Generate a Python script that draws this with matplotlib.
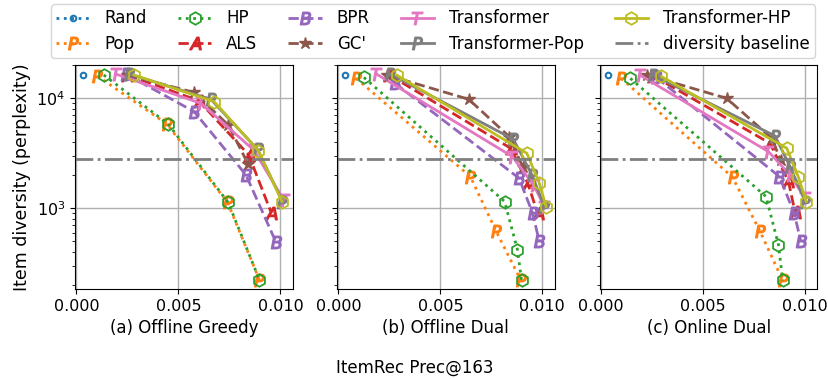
import matplotlib
matplotlib.use('Agg')
import matplotlib.pyplot as plt

# precision (x) and item diversity (y) per method, one list per panel
panel_titles = ['(a) Offline Greedy', '(b) Offline Dual', '(c) Online Dual']

rand_prec = [[0.00033], [0.00033], [0.00033]]
rand_div = [[16300], [16300], [16300]]

pop_prec = [[0.00102, 0.00443, 0.00741, 0.00897],
            [0.00087, 0.00647, 0.00774, 0.00895],
            [0.00098, 0.00644, 0.00779, 0.00890]]
pop_div = [[16000, 5850, 1128, 223],
           [15200, 1940, 614, 220],
           [15200, 1915, 614, 220]]

hp_prec = [[0.00134, 0.00449, 0.00744, 0.00897],
           [0.00125, 0.00815, 0.00878, 0.00898],
           [0.00143, 0.00808, 0.00869, 0.00890]]
hp_div = [[16300, 5850, 1128, 223],
          [15500, 1150, 418, 220],
          [15200, 1276, 465, 220]]

als_prec = [[0.00249, 0.00600, 0.00845, 0.00956],
            [0.00250, 0.00845, 0.00928, 0.00977],
            [0.00255, 0.00828, 0.00918, 0.00950]]
als_div = [[16300, 9500, 3050, 900],
           [16300, 3510, 1690, 900],
           [16000, 3890, 1750, 930]]

bpr_prec = [[0.00241, 0.00577, 0.00831, 0.00979],
            [0.00277, 0.00886, 0.00952, 0.00985],
            [0.00270, 0.00874, 0.00946, 0.00979]]
bpr_div = [[16650, 7570, 2010, 488],
           [13700, 1874, 902, 498],
           [15500, 1940, 902, 498]]

gc_prec = [[0.00250, 0.00577, 0.00745, 0.00843],
           [0.00236, 0.00639, 0.00837, 0.00903],
           [0.00225, 0.00615, 0.00836, 0.00880]]
gc_div = [[16300, 11300, 5700, 2500],
          [16300, 9800, 4490, 2390],
          [16300, 10000, 4330, 2750]]

tf_prec = [[0.00192, 0.00610, 0.00869, 0.01016],
           [0.00186, 0.00853, 0.00957, 0.01010],
           [0.00189, 0.00820, 0.00926, 0.01000]]
tf_div = [[16650, 9010, 3390, 1192],
          [16650, 2950, 1630, 1035],
          [16300, 3270, 2010, 1230]]

tfpop_prec = [[0.00257, 0.00659, 0.00888, 0.01010],
              [0.00252, 0.00858, 0.00949, 0.01010],
              [0.00254, 0.00852, 0.00926, 0.01000]]
tfpop_div = [[16650, 9790, 3430, 1150],
             [16650, 4240, 2010, 1035],
             [16300, 4550, 2390, 1150]]

tfhp_prec = [[0.00282, 0.00675, 0.00892, 0.01008],
             [0.00285, 0.00924, 0.00985, 0.01018],
             [0.00295, 0.00910, 0.00967, 0.01005]]
tfhp_div = [[16300, 9330, 3340, 1150],
            [16300, 3160, 1690, 1035],
            [15800, 3510, 1915, 1150]]

diversity_baseline = 2800

plt.rcParams['font.size'] = 12

fig = plt.figure(figsize=(8.29, 3.79), dpi=100)
axes = []
lefts = [0.0905, 0.4065, 0.7235]
for i, left in enumerate(lefts):
    if i == 0:
        ax = fig.add_axes([left, 0.2375, 0.2625, 0.591])
    else:
        ax = fig.add_axes([left, 0.2375, 0.2625, 0.591], sharey=axes[0])
    axes.append(ax)

for i, ax in enumerate(axes):
    ax.plot(rand_prec[i], rand_div[i], ':', color='C0', marker='o', ms=4,
            mfc='none', mew=1.5, lw=2, label='Rand')
    ax.plot(pop_prec[i], pop_div[i], ':', color='C1', marker='$P$', ms=9,
            lw=2, label='Pop')
    ax.plot(hp_prec[i], hp_div[i], ':', color='C2', marker='h', ms=9,
            mfc='none', mew=1.3, lw=2, label='HP')
    ax.plot(als_prec[i], als_div[i], '--', color='C3', marker='$A$', ms=9,
            lw=2, label='ALS')
    ax.plot(bpr_prec[i], bpr_div[i], '--', color='C4', marker='$B$', ms=9,
            lw=2, label='BPR')
    ax.plot(gc_prec[i], gc_div[i], '--', color='C5', marker='*', ms=9,
            lw=2, label="GC'")
    ax.plot(tf_prec[i], tf_div[i], '-', color='C6', marker='$T$', ms=9,
            lw=2, label='Transformer')
    ax.plot(tfpop_prec[i], tfpop_div[i], '-', color='C7', marker='$P$', ms=9,
            lw=2, label='Transformer-Pop')
    ax.plot(tfhp_prec[i], tfhp_div[i], '-', color='C8', marker='h', ms=9,
            mfc='none', mew=1.3, lw=2, label='Transformer-HP')
    ax.axhline(diversity_baseline, color='C7', ls='-.', lw=2,
               label='diversity baseline')

    ax.set_yscale('log')
    ax.set_ylim(184, 20100)
    ax.set_xlim(-0.00007, 0.0106)
    ax.set_xticks([0.0, 0.005, 0.010])
    ax.set_xticklabels(['0.000', '0.005', '0.010'])
    ax.tick_params(labelsize=11.5)
    ax.grid(True, which='major', color='#b0b0b0', lw=1)
    ax.set_xlabel(panel_titles[i])
    if i > 0:
        ax.tick_params(axis='y', which='both', labelleft=False)

axes[0].set_ylabel('Item diversity (perplexity)', fontsize=12.5)
fig.text(0.5, 0.03, 'ItemRec Prec@163', ha='center', va='center')

handles, labels = axes[0].get_legend_handles_labels()
fig.legend(handles, labels, loc='upper center', ncol=5,
           bbox_to_anchor=(0.5225, 0.997), handlelength=2.0,
           handletextpad=0.9, columnspacing=1.85, borderaxespad=0.2,
           borderpad=0.3, labelspacing=0.45)

fig.savefig('out.png', dpi=100)
